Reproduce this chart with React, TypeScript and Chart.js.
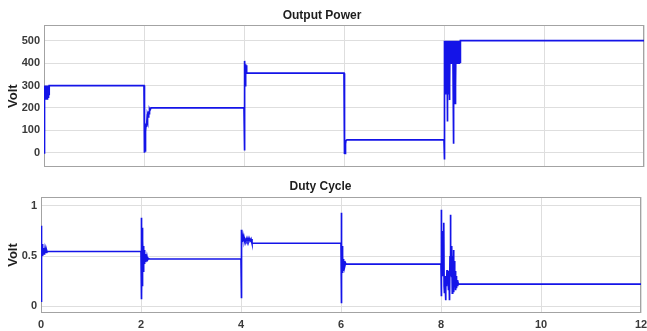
import React, { useEffect, useRef } from "react";
import { Chart, registerables } from "chart.js";

Chart.register(...registerables);

// Axis ticks
const timeTicks = [0, 2, 4, 6, 8, 10, 12];
const powerTicks = [0, 100, 200, 300, 400, 500];
const dutyTicks = [0, 0.5, 1];

// Output power (time in s, value)
const powerTime = [
  0, 0.004, 0.008, 0.012, 0.016, 0.02, 0.024, 0.028, 0.032, 0.036, 0.04, 0.044, 0.048, 0.052,
  0.056, 0.06, 0.064, 0.068, 0.072, 0.076, 0.08, 0.084, 0.088, 0.092, 0.096, 0.1, 0.104,
  2.0, 2.004, 2.01, 2.014, 2.02, 2.024, 2.03, 2.036, 2.044, 2.05, 2.06, 2.066, 2.076, 2.084,
  2.094, 2.1, 2.11, 2.12, 2.14,
  4.0, 4.004, 4.008, 4.012, 4.016, 4.02, 4.026, 4.03, 4.036, 4.042, 4.05, 4.056,
  6.0, 6.004, 6.01, 6.016, 6.022, 6.03, 6.04, 6.06,
  8.0, 8.004, 8.008, 8.012, 8.016, 8.02, 8.024, 8.028, 8.032, 8.036, 8.04, 8.044, 8.048, 8.052,
  8.056, 8.06, 8.064, 8.068, 8.072, 8.076, 8.08, 8.084, 8.088, 8.092, 8.096, 8.1, 8.104, 8.108,
  8.112, 8.116, 8.12, 8.124, 8.128, 8.132, 8.136, 8.14, 8.144, 8.148, 8.152, 8.156, 8.16, 8.164,
  8.168, 8.172, 8.176, 8.18, 8.184, 8.188, 8.192, 8.196, 8.2, 8.204, 8.208, 8.212, 8.216, 8.22,
  8.224, 8.228, 8.232, 8.236, 8.24, 8.244, 8.248, 8.252, 8.256, 8.26, 8.264, 8.268, 8.272, 8.276,
  8.28, 8.284, 8.288, 8.292, 8.296, 8.3, 8.304, 8.308, 8.312, 8.316, 8.32, 8.324, 8.328, 8.332,
  12,
];
const powerValue = [
  0, 140, 300, 160, 300, 240, 300, 240, 300, 245, 300, 240, 300, 250,
  300, 240, 300, 245, 300, 240, 300, 250, 300, 245, 300, 260, 300,
  300, 0, 60, 0, 90, 5, 110, 95, 130, 115, 150, 140, 170, 160,
  185, 175, 195, 190, 200,
  200, 10, 200, 260, 300, 410, 300, 395, 370, 390, 360, 355,
  355, 0, -5, 15, -3, 40, 55, 58,
  58, -30, 250, 500, 300, 500, 260, 500, 400, 500, 400, 500, 400, 500,
  400, 500, 300, 140, 500, 400, 500, 400, 500, 260, 500, 400, 500, 235,
  500, 300, 500, 400, 500, 400, 500, 400, 500, 400, 500, 400, 500, 400,
  500, 400, 500, 400, 500, 40, 500, 250, 500, 300, 500, 250, 500, 220,
  500, 250, 500, 300, 500, 400, 500, 400, 500, 400, 500, 400, 500, 400,
  500, 400, 500, 400, 500, 400, 500, 400, 500, 400, 500, 400, 500, 500,
  500,
];

// Duty cycle (time in s, value)
const dutyTime = [
  0, 0.004, 0.008, 0.012, 0.016, 0.02, 0.026, 0.032, 0.038, 0.044, 0.05, 0.056, 0.062, 0.068,
  0.074, 0.08, 0.088, 0.096, 0.104, 0.112, 0.12, 0.14,
  2.0, 2.004, 2.008, 2.012, 2.016, 2.02, 2.024, 2.028, 2.032, 2.038, 2.044, 2.05, 2.056, 2.064,
  2.072, 2.08, 2.09, 2.1, 2.11, 2.12, 2.13, 2.15, 2.17,
  4.0, 4.004, 4.008, 4.012, 4.016, 4.022, 4.03, 4.04, 4.05, 4.06, 4.07, 4.08, 4.1, 4.12, 4.14,
  4.16, 4.18, 4.2, 4.22,
  6.0, 6.004, 6.008, 6.012, 6.016, 6.022, 6.028, 6.034, 6.04, 6.048, 6.056, 6.066, 6.076, 6.09,
  6.1,
  8.0, 8.004, 8.008, 8.014, 8.02, 8.026, 8.032, 8.04, 8.048, 8.055, 8.062, 8.07, 8.08, 8.09,
  8.1, 8.11, 8.12, 8.13, 8.14, 8.15, 8.16, 8.17, 8.18, 8.188, 8.196, 8.204, 8.21, 8.218, 8.226,
  8.234, 8.24, 8.25, 8.258, 8.266, 8.274, 8.284, 8.292, 8.3, 8.31, 8.32, 8.33, 8.34, 8.35,
  12,
];
const dutyValue = [
  0.05, 0.8, 0.42, 0.72, 0.48, 0.62, 0.5, 0.6, 0.5, 0.58, 0.52, 0.58, 0.52, 0.57,
  0.53, 0.57, 0.53, 0.56, 0.535, 0.555, 0.54, 0.545,
  0.545, 0.88, 0.07, 0.85, 0.1, 0.78, 0.2, 0.72, 0.3, 0.66, 0.35, 0.6, 0.4, 0.56,
  0.42, 0.52, 0.44, 0.5, 0.45, 0.49, 0.46, 0.475, 0.47,
  0.47, 0.76, 0.08, 0.72, 0.6, 0.7, 0.64, 0.69, 0.65, 0.68, 0.65, 0.67, 0.65, 0.68, 0.65,
  0.68, 0.65, 0.67, 0.627,
  0.627, 0.93, 0.03, 0.88, 0.3, 0.6, 0.33, 0.5, 0.36, 0.47, 0.38, 0.45, 0.4, 0.43,
  0.42,
  0.42, 0.96, 0.1, 0.73, 0.55, 0.75, 0.3, 0.7, 0.4, 0.83, 0.2, 0.13, 0.3, 0.06,
  0.3, 0.2, 0.36, 0.25, 0.3, 0.16, 0.35, 0.06, 0.5, 0.91, 0.3, 0.6, 0.29, 0.58, 0.13,
  0.5, 0.2, 0.56, 0.14, 0.45, 0.2, 0.35, 0.16, 0.3, 0.18, 0.26, 0.2, 0.245, 0.22,
  0.22,
];

const FONT = "'Liberation Sans', Arial, Helvetica, sans-serif";
const LINE_COLOR = "#1414e8";
const GRID_COLOR = "#dedede";
const BOX_COLOR = "#a3a3a3";
const TICK_COLOR = "#3a3a3a";

// Closed axes box around the plotting area
const framePlugin = {
  id: "frame",
  beforeDatasetsDraw(chart: any) {
    const { ctx, chartArea: a } = chart;
    ctx.save();
    ctx.strokeStyle = BOX_COLOR;
    ctx.lineWidth = 1;
    const l = Math.round(a.left) + 0.5;
    const t = Math.round(a.top) + 0.5;
    const r = Math.round(a.right) - 0.5;
    const b = Math.round(a.bottom) - 0.5;
    ctx.strokeRect(l, t, r - l, b - t);
    ctx.restore();
  },
};

type PanelProps = {
  title: string;
  time: number[];
  value: number[];
  yMin: number;
  yMax: number;
  yTicks: number[];
  yWidth: number;
  showX: boolean;
  width: number;
  height: number;
  titlePad: { top: number; bottom: number };
  layoutPad: { left: number; right: number; top: number; bottom: number };
};

function Panel(p: PanelProps) {
  const ref = useRef<HTMLCanvasElement | null>(null);

  useEffect(() => {
    if (!ref.current) return;
    const chart = new Chart(ref.current, {
      type: "line",
      data: {
        datasets: [
          {
            data: p.time.map((t, i) => ({ x: t, y: p.value[i] })),
            borderColor: LINE_COLOR,
            borderWidth: 1.7,
            pointRadius: 0,
            tension: 0,
            fill: false,
          },
        ],
      },
      options: {
        responsive: false,
        animation: false,
        events: [],
        layout: { padding: p.layoutPad },
        plugins: {
          legend: { display: false },
          tooltip: { enabled: false },
          title: {
            display: true,
            text: p.title,
            color: "#1e1e1e",
            font: { family: FONT, size: 12, weight: "bold" },
            padding: p.titlePad,
          },
        },
        scales: {
          x: {
            type: "linear",
            min: 0,
            max: 12,
            afterBuildTicks: (s: any) => {
              s.ticks = timeTicks.map((v) => ({ value: v }));
            },
            afterFit: (s: any) => {
              s.height = p.showX ? 18 : 0;
              s.paddingLeft = 0;
              s.paddingRight = 0;
            },
            border: { display: false },
            grid: { color: GRID_COLOR, drawTicks: false, lineWidth: 1 },
            ticks: {
              display: p.showX,
              color: TICK_COLOR,
              padding: 5,
              maxRotation: 0,
              autoSkip: false,
              font: { family: FONT, size: 11, weight: "bold" },
              callback: (v: any) => String(v),
            },
          },
          y: {
            type: "linear",
            min: p.yMin,
            max: p.yMax,
            afterBuildTicks: (s: any) => {
              s.ticks = p.yTicks.map((v) => ({ value: v }));
            },
            afterFit: (s: any) => {
              s.width = p.yWidth;
            },
            border: { display: false },
            grid: { color: GRID_COLOR, drawTicks: false, lineWidth: 1 },
            ticks: {
              color: TICK_COLOR,
              padding: 4,
              autoSkip: false,
              font: { family: FONT, size: 11, weight: "bold" },
              callback: (v: any) => String(v),
            },
            title: {
              display: true,
              text: "Volt",
              color: "#1e1e1e",
              font: { family: FONT, size: 13, weight: "bold" },
              padding: { top: 6, bottom: 0 },
            },
          },
        },
      },
      plugins: [framePlugin],
    } as any);
    return () => chart.destroy();
  }, []);

  return (
    <canvas
      ref={ref}
      width={p.width}
      height={p.height}
      style={{ display: "block", width: p.width, height: p.height }}
    />
  );
}

export default function App() {
  return (
    <div
      style={{
        position: "absolute",
        left: 0,
        top: 0,
        width: 647,
        height: 331,
        background: "#ffffff",
        overflow: "hidden",
      }}
    >
      <div style={{ position: "absolute", left: 0, top: 0 }}>
        <Panel
          title="Output Power"
          time={powerTime}
          value={powerValue}
          yMin={-65}
          yMax={570}
          yTicks={powerTicks}
          yWidth={44}
          showX={false}
          width={647}
          height={178}
          titlePad={{ top: 8.6, bottom: 2 }}
          layoutPad={{ left: 0, right: 3, top: 0, bottom: 4 }}
        />
      </div>
      <div style={{ position: "absolute", left: 0, top: 178 }}>
        <Panel
          title="Duty Cycle"
          time={dutyTime}
          value={dutyValue}
          yMin={-0.067}
          yMax={1.087}
          yTicks={dutyTicks}
          yWidth={41}
          showX={true}
          width={647}
          height={153}
          titlePad={{ top: 1.8, bottom: 2.8 }}
          layoutPad={{ left: 0, right: 6, top: 0, bottom: 0 }}
        />
      </div>
    </div>
  );
}
